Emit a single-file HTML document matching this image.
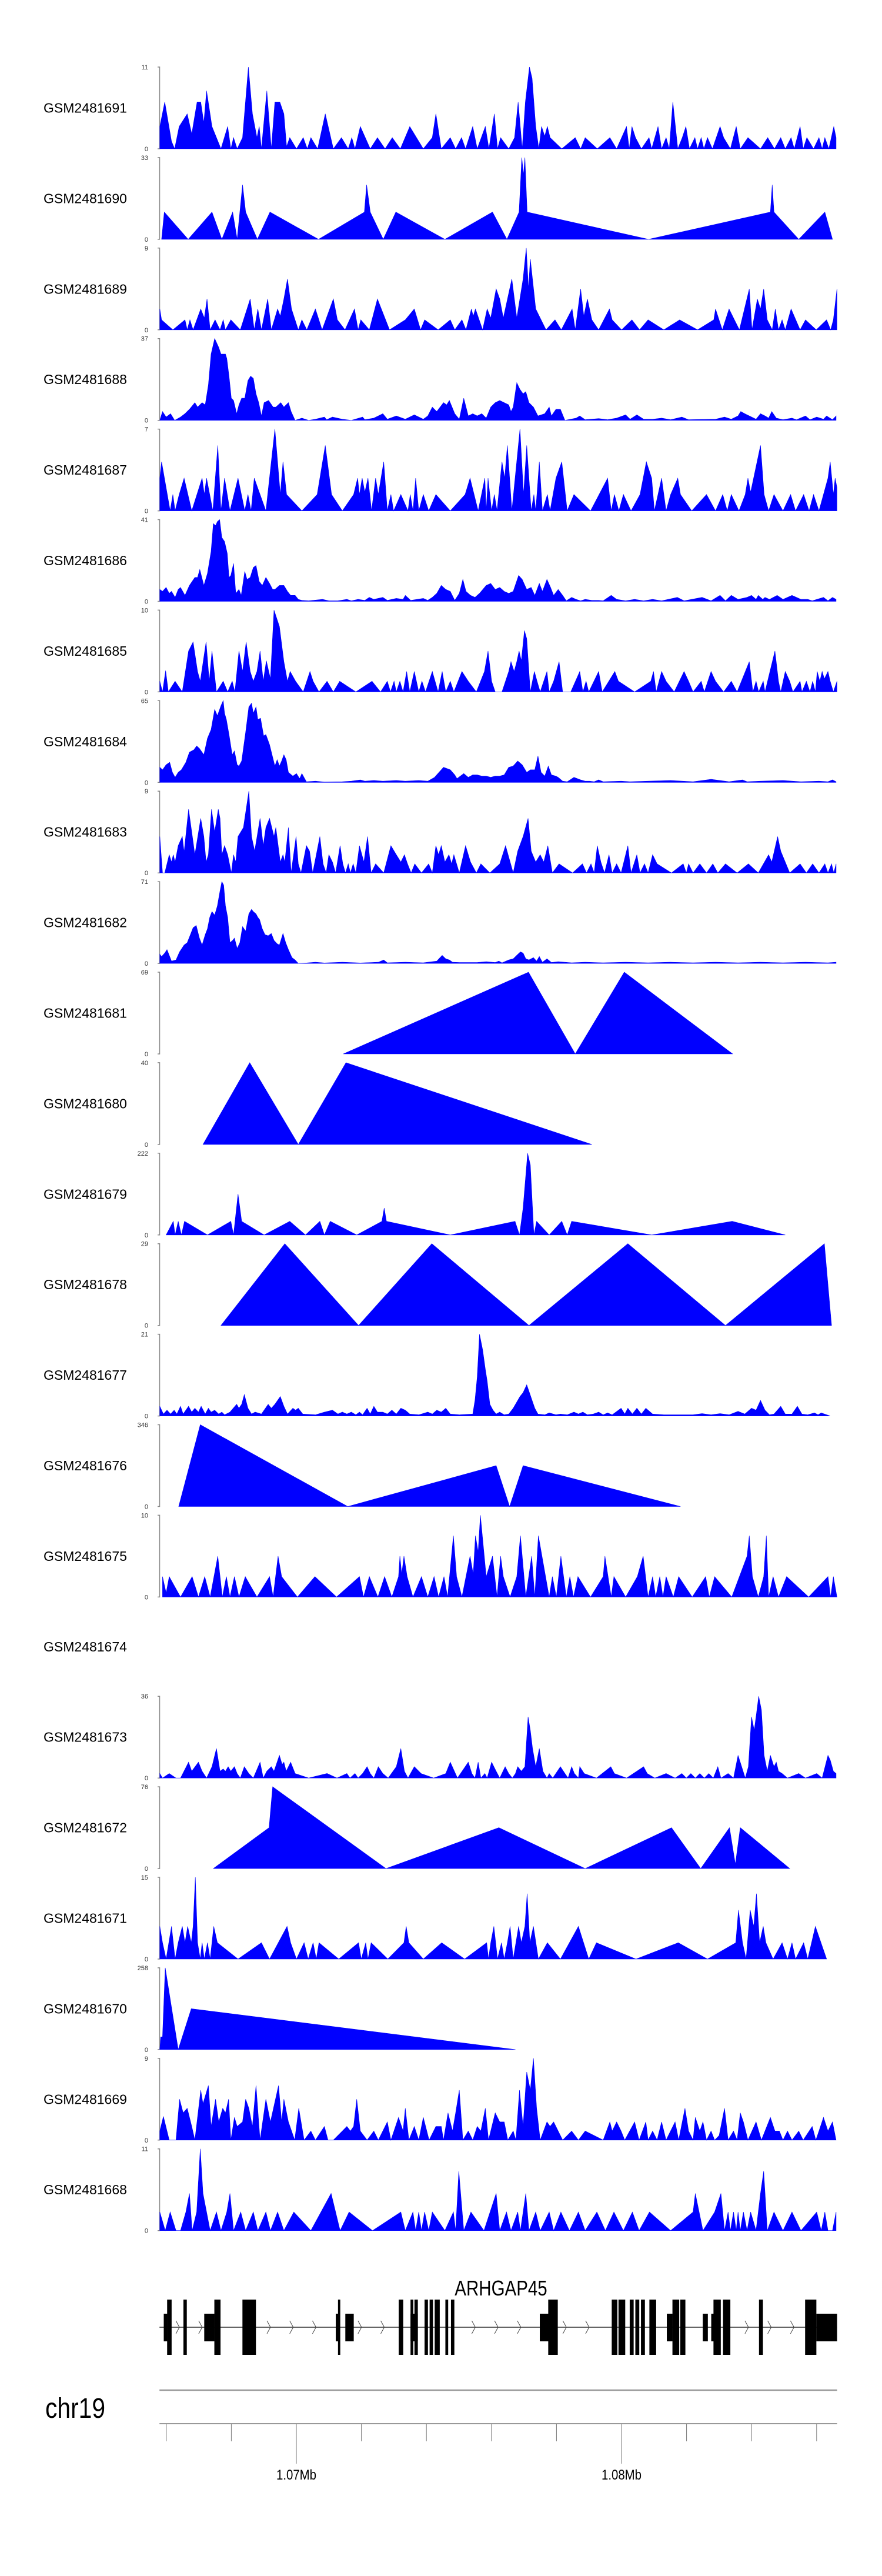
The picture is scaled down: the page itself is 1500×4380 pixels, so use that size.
<!DOCTYPE html>
<html>
<head>
<meta charset="utf-8">
<style>
html,body{margin:0;padding:0;background:#fff;}
svg{display:block;}
text{font-family:"Liberation Sans",Arial,sans-serif;}
</style>
</head>
<body>
<svg id="chart" width="1500" height="4380" viewBox="0 0 1500 4380" xmlns="http://www.w3.org/2000/svg"></svg>
<script>
// ---- data (positions are genomic bins of BIN_BP bp, values are coverage) ----
const BIN_BP = 13.828;
const BIN0 = 1065607;
const samples = ["GSM2481691","GSM2481690","GSM2481689","GSM2481688","GSM2481687","GSM2481686","GSM2481685","GSM2481684","GSM2481683","GSM2481682","GSM2481681","GSM2481680","GSM2481679","GSM2481678","GSM2481677","GSM2481676","GSM2481675","GSM2481674","GSM2481673","GSM2481672","GSM2481671","GSM2481670","GSM2481669","GSM2481668"];
const maxTicks = [11,33,9,37,7,41,10,65,9,71,69,40,222,29,21,346,10,null,36,76,15,258,9,11];

const t1691 = [[14,3],[25,6.3],[40,1],[47,0],[57,3],[75,4.7],[85,2],[97,6.3],[105,6.3],[112,3.5],[118,7.8],[130,3],[150,0],[165,3],[172,0],[178,1.5],[186,0],[198,1.5],[211,11],[220,4.7],[230,1.5],[235,3],[240,0],[252,7.8],[262,0],[270,6.3],[281,6.3],[290,4.7],[296,0.3],[303,1.5],[318,0],[333,1.5],[342,0],[350,1.5],[365,0],[382,4.7],[400,0],[418,1.5],[433,0],[441,1.5],[448,0],[460,3],[482,0],[498,1.5],[515,0],[531,1.5],[549,0],[570,3],[600,0],[620,1.5],[628,4.7],[640,0],[660,1.5],[672,0],[685,1.5],[694,0],[710,3],[720,0],[738,3],[746,0],[758,4.7],[765,0],[772,1.5],[790,0],[803,1.5],[811,6.3],[820,0],[827,6.3],[836,11],[842,9.5],[850,3],[857,0],[863,3],[870,1.7],[876,3],[882,1.5],[908,0],[938,1.5],[950,0],[960,1.5],[987,0],[1015,1.5],[1030,0],[1052,3],[1058,0],[1064,3],[1072,1.5],[1085,0],[1102,1.5],[1108,0],[1122,3],[1130,0],[1140,1.5],[1147,0],[1155,6.3],[1166,0],[1176,1.5],[1184,3],[1192,0],[1204,1.5],[1210,0],[1218,1.5],[1224,0],[1232,1.5],[1243,0],[1260,3],[1268,1.5],[1283,0],[1296,3],[1305,0],[1322,1.5],[1350,0],[1366,1.5],[1381,0],[1395,1.5],[1405,0],[1418,1.5],[1425,0],[1438,3],[1445,0],[1453,1.5],[1468,0],[1480,1.5],[1487,0],[1493,1.5],[1502,0],[1513,3],[1518,1.5]];
const t1690 = [[18,0],[24,11],[77,0],[130,11],[152,0],[176,11],[186,0],[198,22],[205,11],[231,0],[259,11],[367,0],[469,11],[474,22],[482,11],[511,0],[539,11],[648,0],[754,11],[786,0],[813,11],[819,33],[823,26],[826,33],[831,11],[1101,0],[1372,11],[1376,22],[1380,11],[1435,0],[1493,11],[1510,0]];
const t1689 = [[14,2.3],[18,1.1],[43,0],[70,1.1],[75,0],[81,1.1],[88,0],[105,2.3],[113,1.3],[119,3.4],[126,0],[137,1.1],[148,0],[155,1.1],[160,0],[172,1.1],[193,0],[215,3.4],[224,0],[232,2.3],[240,0],[254,3.4],[262,0],[276,2.3],[282,1.5],[290,3.4],[298,5.6],[307,2.3],[322,0],[330,1.1],[341,0],[360,2.3],[375,0],[400,3.4],[409,1.1],[426,0],[447,2.3],[455,0],[461,1.1],[480,0],[498,3.4],[525,0],[560,1.1],[580,2.3],[594,0],[603,1.1],[633,0],[660,1.1],[670,0],[686,1.1],[695,0],[707,2.3],[711,1.5],[716,2.3],[732,0],[742,2.3],[750,1.3],[762,4.5],[770,3.4],[778,1.3],[797,5.6],[808,1.3],[822,5.6],[829,9],[834,4.5],[838,7.8],[850,2.3],[873,0],[893,1.1],[907,0],[931,2.3],[938,0],[950,4.5],[957,1.5],[965,3.4],[975,1.1],[990,0],[1014,2.3],[1020,1.1],[1041,0],[1064,1.1],[1081,0],[1100,1.1],[1135,0],[1170,1.1],[1210,0],[1246,1.1],[1250,2.3],[1265,0],[1280,2.3],[1292,1.1],[1303,0],[1325,4.5],[1331,0],[1343,3.4],[1350,2.3],[1357,4.5],[1365,1.1],[1376,0],[1383,2.3],[1390,0],[1398,1.1],[1405,0],[1418,2.3],[1438,0],[1450,1.1],[1474,0],[1497,1.1],[1506,0],[1512,1.1],[1520,4.5]];
const t1688 = [[14,0],[20,4],[28,1.5],[38,3],[47,0],[60,1.5],[70,3],[80,5],[92,8],[98,6],[108,8],[115,7],[122,16],[128,30],[136,37],[145,33],[150,30],[160,30],[163,28],[168,20],[173,10],[178,9],[185,3],[190,7],[196,10],[203,10],[210,18],[216,20],[222,19],[228,12],[234,8],[240,2],[246,8],[256,9],[266,6],[272,6],[283,8],[290,6],[300,8],[306,4],[315,0],[330,1],[345,0],[360,0.5],[380,1.5],[385,0.3],[398,1.5],[420,0.5],[440,0],[465,1.5],[470,0.3],[490,1],[510,3],[520,0.5],[540,2],[560,0.5],[580,2.5],[600,0.5],[610,2],[620,6],[630,4],[645,8],[652,7],[658,9],[670,3],[680,0.5],[690,10],[700,2],[710,3],[720,2],[730,3],[740,1],[750,6],[760,8],[770,9],[780,8],[790,7],[795,4],[800,6],[808,17],[815,14],[822,12],[828,13],[835,8],[845,6],[855,2],[870,3],[880,6],[885,2],[895,5],[905,5],[915,0],[940,1],[948,2],[960,0.3],[990,0.8],[1010,0.3],[1030,1],[1050,2.5],[1060,0.5],[1075,2.5],[1090,0.5],[1110,0.5],[1130,1],[1150,0.3],[1175,1.5],[1190,0.3],[1250,0.5],[1270,1.5],[1285,0.5],[1300,2],[1306,4],[1315,3],[1325,2],[1340,0.5],[1350,3],[1360,2],[1368,1],[1375,4],[1385,1],[1400,0.3],[1420,1],[1430,0.3],[1450,2],[1460,0.3],[1475,1.5],[1490,0.5],[1497,2],[1510,0.3],[1518,2]];
const t1687 = [[14,2.8],[18,4.2],[37,0],[43,1.4],[48,0],[57,1.4],[68,2.8],[85,0],[108,2.8],[113,1.4],[118,2.8],[132,0],[143,5.6],[150,0],[158,2.8],[170,0],[188,2.8],[203,0],[210,1.4],[217,0],[224,2.8],[250,0],[270,7],[282,1.4],[288,4.2],[296,1.4],[330,0],[364,1.4],[382,5.6],[396,1.4],[420,0],[445,1.4],[454,2.8],[458,1.4],[464,2.8],[470,1.6],[477,2.8],[485,0],[494,2.8],[500,1.4],[512,4.2],[520,0],[528,1.4],[534,0],[550,1.4],[566,0],[571,1.4],[577,0],[583,2.8],[590,0],[600,1.4],[612,0],[628,1.4],[660,0],[693,1.4],[704,2.8],[722,0],[737,2.8],[740,0],[744,2.8],[752,0],[758,1.4],[764,0],[775,4.2],[781,2.8],[787,5.6],[797,0],[815,7],[823,1.4],[830,5.6],[840,0],[846,1.4],[850,0],[858,4.2],[865,0],[876,1.4],[882,0],[895,2.8],[908,4.2],[920,0],[935,1.4],[972,0],[1010,2.8],[1018,0],[1025,1.4],[1035,0],[1045,1.4],[1062,0],[1082,1.4],[1096,4.2],[1108,2.8],[1114,0],[1130,2.8],[1140,0],[1150,1.4],[1166,2.8],[1172,1.4],[1197,0],[1230,1.4],[1250,0],[1266,1.4],[1276,0],[1285,1.4],[1302,0],[1316,1.4],[1322,2.8],[1328,1.6],[1350,5.6],[1358,1.4],[1368,0],[1380,1.4],[1400,0],[1417,1.4],[1428,0],[1446,1.4],[1458,0],[1468,1.4],[1480,0],[1500,2.8],[1505,4.2],[1512,1.4],[1516,2.8],[1520,2]];
const t1686 = [[14,6],[20,5],[28,7],[35,4],[40,5],[48,2],[55,6],[60,7],[70,3],[80,8],[92,12],[98,12],[103,16],[112,8],[120,14],[128,25],[133,39],[138,38],[142,40],[147,41],[152,32],[158,30],[164,24],[168,12],[172,13],[178,19],[183,4],[190,6],[195,3],[203,15],[208,11],[215,12],[222,17],[228,18],[235,10],[242,8],[250,12],[258,9],[265,6],[270,6],[280,8],[290,8],[298,5],[305,3],[315,3],[322,1],[330,0.5],[345,0.3],[376,1],[390,0.3],[410,0.3],[430,1],[440,0.3],[455,1],[470,0.5],[480,2],[490,1],[510,2],[520,0.5],[540,1.5],[555,1],[560,3],[572,0.5],[600,1.5],[610,0.5],[620,2],[630,4],[640,8],[650,6],[660,5],[670,0.5],[680,4],[688,11],[695,5],[705,3],[715,2],[725,4],[740,8],[750,9],[760,6],[770,7],[780,5],[790,4],[800,5],[812,13],[820,11],[830,6],[840,7],[848,3],[858,9],[865,5],[875,11],[883,7],[890,3],[900,6],[910,3],[918,0.3],[930,2],[940,1],[950,0.3],[960,1],[975,0.5],[990,0.5],[1000,0.3],[1018,3],[1030,1],[1050,0.3],[1070,1],[1090,0.3],[1110,1],[1130,0.3],[1165,2],[1180,0.3],[1220,2],[1240,0.3],[1260,3],[1272,0.3],[1285,3],[1300,1],[1320,2],[1330,3],[1340,1],[1345,3],[1355,1],[1360,2],[1370,1],[1387,3],[1400,1],[1420,3],[1440,1],[1455,1],[1465,0.3],[1490,2],[1500,0.3],[1510,2],[1518,1]];
const t1685 = [[14,1.3],[20,0],[27,2.6],[33,0],[48,1.3],[64,0],[78,5],[88,6.1],[98,2.5],[104,1.3],[117,6.1],[124,1.3],[130,5],[140,0],[155,1.3],[165,0],[175,1.3],[181,0],[190,5],[198,2.5],[206,6.1],[215,2.5],[222,1.3],[230,2.5],[237,5],[244,1.3],[251,3.8],[260,1.6],[268,10],[280,8],[290,3.7],[298,1.3],[304,2.5],[316,1.3],[333,0],[348,2.5],[355,1.3],[368,0],[386,1.3],[400,0],[414,1.3],[450,0],[486,1.3],[505,0],[520,1.3],[527,0],[535,1.3],[540,0],[548,1.3],[555,0],[563,2.5],[570,0],[580,2.5],[590,0],[597,1.3],[605,0],[620,2.5],[633,0],[642,2.5],[650,0],[660,1.3],[668,0],[686,2.5],[700,1.3],[718,0],[736,2.5],[744,5],[752,1.3],[760,0],[775,0],[790,2.5],[795,3.7],[802,2.5],[808,3.7],[813,5],[818,3.8],[825,7.5],[830,6.5],[838,0],[847,2.5],[853,1.3],[860,0],[875,2.5],[880,0],[890,1.3],[902,3.7],[910,0],[928,0],[948,2.5],[955,0],[962,1.3],[968,0],[990,2.5],[998,0],[1026,2.5],[1034,1.3],[1070,0],[1106,1.3],[1112,2.5],[1118,0],[1130,2.5],[1140,1.3],[1158,0],[1180,2.5],[1190,1.3],[1200,0],[1218,1.3],[1225,0],[1240,2.5],[1250,1.3],[1268,0],[1285,1.3],[1298,0],[1325,3.7],[1333,0],[1340,1.3],[1346,0],[1356,1.3],[1360,0],[1382,5],[1390,1.3],[1395,0],[1405,2.5],[1415,1.3],[1422,0],[1438,1.3],[1442,0],[1452,1.3],[1460,0],[1466,1.3],[1472,0],[1476,2.5],[1482,1.3],[1487,2.5],[1492,1.6],[1500,2.5],[1505,1.3],[1512,0],[1520,1.3]];
const t1684 = [[14,12],[20,10],[28,14],[36,16],[42,8],[48,4],[55,8],[62,10],[72,16],[80,24],[90,26],[96,29],[102,27],[112,22],[120,35],[128,42],[136,58],[142,53],[150,61],[155,65],[158,55],[162,50],[168,38],[175,22],[180,25],[186,14],[190,13],[196,17],[205,40],[212,60],[218,63],[222,55],[228,60],[232,50],[238,51],[245,37],[250,38],[258,30],[265,20],[270,13],[275,18],[280,13],[285,17],[290,22],[295,18],[300,8],[310,5],[318,7],[325,3],[330,7],[340,0.5],[360,1],[380,0.3],[420,0.5],[440,1],[460,2],[470,1],[490,1.5],[510,1],[540,1.5],[560,1],[590,1.5],[610,1],[625,4],[630,6],[645,12],[660,10],[670,6],[675,3],[690,7],[700,4],[710,6],[720,6],[730,5],[740,5],[750,4],[760,5],[770,5],[780,6],[790,12],[800,13],[810,17],[820,14],[830,8],[838,10],[848,10],[855,21],[862,8],[870,5],[878,13],[885,6],[895,5],[900,4],[910,1],[920,0.5],[935,4],[950,2],[960,1],[970,1],[980,0.5],[990,2],[1000,0.5],[1040,1],[1060,0.5],[1100,1],[1150,1.5],[1200,0.5],[1240,2.5],[1260,1.5],[1280,0.5],[1310,2],[1320,0.5],[1350,1],[1400,1.5],[1440,0.5],[1480,1],[1500,0.5],[1510,2],[1518,0.5]];
const t1683 = [[14,4],[20,0],[25,0],[35,2],[40,1.2],[44,2],[48,1.2],[55,3],[64,4],[68,2.3],[78,7],[85,4.5],[92,2],[105,6],[112,4],[117,1.2],[122,2],[129,7],[136,4.5],[144,7],[148,6],[152,2],[158,3],[165,2],[173,0],[178,2],[183,1.2],[188,4],[200,5],[206,7],[212,9],[218,4],[225,2.4],[237,6],[244,3],[250,5],[258,6],[263,5],[268,4],[272,5],[282,1.2],[288,2],[292,1.2],[300,5],[306,0],[317,4],[322,1],[328,0],[340,3],[347,2.4],[354,0],[370,4],[377,1],[384,0],[390,2],[398,1.2],[405,0],[415,3],[421,1],[427,0],[433,1],[438,0],[444,1],[450,0],[458,3],[468,1.2],[476,4],[484,0],[494,1],[512,0],[528,3],[540,2],[550,1.2],[558,2],[565,1],[573,0],[581,1],[596,0],[612,1],[620,0],[628,3],[634,2],[640,3],[648,1.2],[657,2],[663,1],[668,2],[680,0],[694,3],[705,1.2],[718,0],[728,1],[748,0],[770,1],[783,3],[800,0],[810,2.4],[822,4],[833,6],[840,2.4],[850,1.2],[860,2],[868,1.2],[877,3],[887,0],[902,1],[932,0],[954,1],[963,0],[973,1],[980,0],[987,3],[995,1.2],[1003,0],[1013,2],[1020,0],[1030,1],[1040,0],[1055,3],[1062,0],[1075,2],[1082,0],[1092,1],[1100,0],[1110,2],[1120,1],[1152,0],[1178,1],[1185,0],[1190,1],[1200,0],[1215,1],[1230,0],[1244,1],[1255,0],[1272,1],[1298,0],[1323,1],[1345,0],[1368,2],[1375,1.2],[1388,4],[1395,2.4],[1415,0],[1438,1],[1452,0],[1466,1],[1480,0],[1493,1],[1500,0],[1508,1],[1513,0],[1518,1]];
const t1682 = [[14,8],[18,6],[25,9],[30,12],[40,2],[50,3],[58,10],[68,16],[75,18],[82,25],[88,31],[95,33],[102,22],[108,16],[115,25],[120,30],[125,40],[130,45],[136,42],[142,50],[148,63],[152,71],[156,68],[160,50],[165,40],[170,18],[176,20],[180,22],[186,13],[192,18],[198,32],[205,28],[212,43],[218,47],[222,45],[228,43],[232,40],[236,38],[242,30],[248,25],[255,24],[262,26],[268,20],[275,17],[280,16],[288,26],[294,18],[300,12],[308,5],[315,3],[322,0],[340,0.4],[360,1],[380,0.4],[420,1],[460,0.4],[500,1],[512,3],[520,0.5],[560,1],[600,0.5],[630,2],[642,7],[650,4],[658,3],[665,1],[680,0.8],[720,0.8],[740,1.5],[760,0.8],[768,2],[775,0.5],[790,3],[800,4],[808,7],[816,10],[822,9],[828,4],[835,3],[845,5],[852,2],[858,6],[865,1],[875,4],[885,0.8],[900,1.5],[930,0.5],[960,1],[1000,0.5],[1050,1],[1100,0.5],[1150,1],[1200,0.5],[1250,1],[1300,0.5],[1350,1],[1400,0.5],[1450,1],[1500,0.5],[1518,1]];
const t1681 = [[422,0],[834,69],[938,0],[1047,69],[1288,0]];
const t1680 = [[110,0],[214,40],[322,0],[428,40],[975,0]];
const t1679 = [[28,0],[44,37],[48,0],[55,37],[62,0],[69,37],[120,0],[172,37],[178,0],[188,111],[196,37],[246,0],[303,37],[338,0],[370,37],[380,0],[393,37],[452,0],[508,37],[513,73],[518,37],[660,0],[804,37],[814,0],[822,73],[832,222],[838,190],[846,0],[852,37],[880,0],[908,37],[920,0],[930,37],[1108,0],[1287,37],[1405,0]];
const t1678 = [[150,0],[292,29],[456,0],[619,29],[835,0],[1055,29],[1272,0],[1492,29],[1508,0]];
const t1677 = [[14,2.5],[22,0.5],[30,1.5],[38,0.5],[46,1.5],[52,0.5],[60,2.5],[66,0.5],[78,2.5],[85,1],[92,2],[100,1],[106,2.5],[115,0.5],[122,2],[128,1],[136,1.5],[145,0.5],[152,1],[158,0.3],[170,1],[185,3],[190,2],[196,3],[202,5.5],[210,2],[218,0.5],[226,1],[240,0.5],[255,3],[262,2],[270,3],[282,5],[290,2.5],[298,0.5],[310,2],[316,1.5],[322,2],[332,0.5],[360,0.3],[380,1],[398,1.5],[410,0.5],[420,1],[430,0.5],[440,1],[450,0.3],[458,1],[465,0.3],[475,2],[482,0.5],[490,2.5],[498,1],[510,1],[520,0.5],[530,1.5],[540,0.5],[550,2],[560,1.5],[570,0.5],[590,0.3],[610,1],[620,0.5],[630,1.5],[640,1],[650,2],[660,0.5],[680,0.3],[710,0.5],[715,4],[720,10],[725,21],[732,17],[738,12],[742,9],[748,3],[755,1.5],[762,0.5],[770,1],[780,0.3],[790,0.5],[800,2],[810,4],[815,5],[822,6],[830,8],[836,6],[842,4],[848,2],[855,0.5],[870,0.3],[880,0.8],[895,0.3],[905,0.5],[920,0.3],[935,1],[945,0.5],[955,1],[965,0.3],[978,0.5],[990,1],[1000,0.3],[1010,0.8],[1020,0.3],[1040,2],[1048,0.5],[1055,2],[1065,0.5],[1075,2],[1085,0.5],[1095,2],[1110,0.5],[1135,0.3],[1170,0.3],[1200,0.3],[1220,0.6],[1240,0.3],[1260,0.6],[1280,0.3],[1300,1.2],[1315,0.5],[1330,2],[1340,1.5],[1350,4],[1360,1.5],[1370,0.3],[1380,0.5],[1395,2.5],[1405,0.5],[1420,0.5],[1432,2.5],[1442,0.5],[1455,0.3],[1470,0.8],[1478,0.3],[1485,0.8],[1505,0]];
const t1676 = [[56,0],[104,346],[432,0],[762,173],[792,0],[822,173],[1172,0]];
const t1675 = [[20,2.5],[28,0.5],[35,2.5],[60,0],[86,2.5],[100,0],[114,2.5],[126,0],[143,5],[153,0],[162,2.5],[170,0],[180,2.5],[190,0],[204,2.5],[230,0],[258,2.5],[266,0],[277,5],[285,2.5],[320,0],[359,2.5],[407,0],[458,2.5],[467,0],[480,2.5],[499,0],[514,2.5],[530,0],[545,2.5],[548,5],[552,2.8],[557,5],[564,2.5],[577,0],[596,2.5],[610,0],[624,2.5],[634,0],[646,2.5],[654,0],[667,7.5],[674,2.5],[686,0],[704,5],[711,2.8],[716,7.5],[722,5.5],[727,10],[740,2.5],[754,5],[764,0],[772,5],[778,2.5],[793,0],[808,2.5],[816,7.5],[828,0],[841,5],[848,0],[856,7.5],[880,0],[887,2.5],[896,0],[906,5],[918,0],[926,2.5],[934,0],[944,2.5],[972,0],[1000,2.5],[1004,5],[1018,0],[1024,2.5],[1050,0],[1076,2.5],[1089,5],[1100,0],[1110,2.5],[1117,0],[1126,2.5],[1133,0],[1140,2.5],[1156,0],[1168,2.5],[1198,0],[1228,2.5],[1236,0],[1248,2.5],[1286,0],[1320,5],[1325,7.5],[1332,2.5],[1345,0],[1357,2.5],[1363,7.5],[1368,0],[1378,2.5],[1390,0],[1408,2.5],[1457,0],[1500,2.5],[1506,0],[1512,2.5],[1520,0]];
const t1674 = [];
const t1673 = [[14,2],[20,0],[35,2],[50,0],[60,0],[78,7],[85,3],[100,7],[108,3],[118,0],[130,5],[140,13],[148,3],[155,4],[160,3],[166,5],[172,3],[180,5],[186,2],[193,0],[202,5],[212,2],[222,0],[237,7],[244,0],[252,3],[262,5],[268,3],[280,10],[286,6],[290,7],[295,3],[305,7],[315,2],[345,0],[386,2],[408,0],[430,2],[437,0],[448,2],[455,0],[465,2],[475,5],[482,2],[490,0],[500,5],[510,2],[522,0],[540,5],[550,13],[558,3],[566,0],[580,5],[595,2],[623,0],[650,2],[660,7],[676,0],[700,7],[708,2],[715,0],[722,7],[728,0],[737,2],[742,0],[752,7],[762,3],[770,0],[782,5],[790,2],[798,0],[805,2],[810,5],[818,3],[826,5],[833,27],[838,21],[843,13],[850,5],[858,13],[866,3],[875,0],[880,2],[888,0],[905,5],[915,2],[922,0],[930,5],[936,2],[945,0],[948,5],[958,2],[985,0],[1017,5],[1025,2],[1052,0],[1090,5],[1098,2],[1115,0],[1140,2],[1160,0],[1175,2],[1185,0],[1195,2],[1205,0],[1215,2],[1225,0],[1235,2],[1245,0],[1255,5],[1262,0],[1278,2],[1290,0],[1300,10],[1308,5],[1316,0],[1323,5],[1330,27],[1336,21],[1340,27],[1346,36],[1352,30],[1358,10],[1365,3],[1372,10],[1380,5],[1385,7],[1390,3],[1398,2],[1410,0],[1435,2],[1450,0],[1475,2],[1487,0],[1500,10],[1505,8],[1512,3],[1518,2]];
const t1672 = [[133,0],[257,38],[265,76],[517,0],[768,38],[960,0],[1152,38],[1217,0],[1281,38],[1294,4],[1305,38],[1415,0]];
const t1671 = [[14,6],[20,3],[28,0],[40,6],[48,0],[55,3],[64,6],[70,3],[76,6],[84,3],[88,6],[93,15],[98,3],[104,0],[108,3],[113,0],[120,3],[126,0],[134,6],[142,3],[188,0],[240,3],[258,0],[297,6],[305,3],[318,0],[335,3],[344,0],[355,3],[362,0],[368,3],[412,0],[456,3],[462,0],[472,3],[477,0],[484,3],[521,0],[557,3],[562,6],[568,3],[600,0],[641,3],[692,0],[741,3],[745,0],[750,3],[757,6],[765,0],[774,3],[780,0],[787,3],[793,6],[800,0],[806,3],[812,6],[818,3],[826,6],[831,12],[837,3],[845,6],[856,0],[876,3],[905,0],[945,6],[968,0],[985,3],[1073,0],[1167,3],[1232,0],[1295,3],[1301,9],[1310,3],[1318,0],[1327,9],[1335,6],[1341,12],[1348,3],[1356,6],[1362,3],[1378,0],[1398,3],[1410,0],[1420,3],[1428,0],[1446,3],[1455,0],[1472,6],[1497,0]];
const t1670 = [[14,0],[16,40],[20,40],[26,258],[55,0],[84,129],[805,0]];
const t1669 = [[14,1],[22,2.6],[35,0],[50,0],[58,4.5],[66,3],[75,3.5],[85,1.5],[92,0],[105,5.5],[110,4],[116,5],[122,6],[128,1.5],[138,4.5],[145,2],[154,3.5],[160,3],[167,4.5],[172,0],[180,2.5],[186,1.5],[198,2],[205,4.5],[212,3.5],[220,1.5],[228,6],[237,0],[250,4.5],[260,2],[278,6],[285,2],[290,4.5],[300,2],[314,0],[323,3.5],[335,0],[350,1],[360,0],[380,1.5],[388,0],[400,0],[420,1],[430,1.5],[438,1],[445,1.5],[452,4.5],[460,1],[475,0],[490,1],[500,0],[520,2],[528,0],[545,2.5],[555,1],[560,3.5],[568,0],[580,1.5],[590,0],[600,2.5],[613,0],[628,1.5],[640,1.5],[645,0],[655,3],[665,1],[672,3],[680,5.5],[688,0],[700,1],[710,0],[720,1.5],[728,1],[738,3.5],[745,0],[760,3],[770,2],[780,2],[788,0],[800,1],[806,0],[814,5.5],[822,1.5],[830,7.5],[838,5.5],[845,9],[852,3.5],[860,0],[875,2],[882,1.5],[890,2],[910,0],[930,1],[945,0],[960,1],[1000,0],[1015,2],[1020,1],[1030,2],[1040,1],[1048,0],[1070,2],[1080,0],[1095,2],[1100,0],[1110,1],[1120,0],[1130,2],[1140,0],[1160,2],[1168,0],[1182,3.5],[1190,1],[1200,0],[1205,2.5],[1215,1],[1222,2],[1230,0],[1240,1],[1248,0],[1258,0.5],[1270,3.5],[1278,0],[1290,1],[1298,0],[1305,3],[1312,2],[1322,0],[1340,2],[1352,0],[1372,2.5],[1382,1],[1392,1],[1400,0],[1410,1],[1420,0],[1435,1],[1445,0],[1465,1.5],[1473,0],[1480,1],[1490,2.5],[1500,1],[1510,2],[1518,0]];
const t1668 = [[14,2.5],[26,0],[37,2.5],[50,0],[60,0],[72,2.5],[80,5],[86,0],[96,2.5],[104,11],[110,5],[126,0],[140,2.5],[150,0],[163,2.5],[170,5],[178,0],[194,2.5],[205,0],[222,2.5],[232,0],[250,2.5],[260,0],[276,2.5],[290,0],[312,2.5],[350,0],[395,5],[415,0],[435,2.5],[487,0],[550,2.5],[560,0],[577,2.5],[583,0],[590,2.5],[596,0],[603,2.5],[612,0],[620,2.5],[648,0],[667,2.5],[672,0],[679,8],[690,0],[706,2.5],[735,0],[762,5],[770,0],[785,2.5],[795,0],[810,2.5],[816,0],[828,5],[835,0],[850,2.5],[860,0],[880,2.5],[890,0],[906,2.5],[925,0],[945,2.5],[960,0],[986,2.5],[1005,0],[1024,2.5],[1045,0],[1065,2.5],[1080,0],[1103,2.5],[1150,0],[1200,2.5],[1205,5],[1222,0],[1248,2.5],[1262,5],[1270,0],[1278,2.5],[1283,0],[1290,2.5],[1296,0],[1300,2.5],[1305,0],[1312,2.5],[1320,0],[1328,2.5],[1340,0],[1350,5],[1357,8],[1365,0],[1380,2.5],[1400,0],[1420,2.5],[1440,0],[1475,2.5],[1485,0],[1493,2.5],[1500,0],[1510,0],[1518,2.5]];
const tracks = [t1691,t1690,t1689,t1688,t1687,t1686,t1685,t1684,t1683,t1682,t1681,t1680,t1679,t1678,t1677,t1676,t1675,t1674,t1673,t1672,t1671,t1670,t1669,t1668];

// gene model (kb)
const exonStart = [1066.026,1066.527,1067.478,1067.564,1068.342,1071.281,1073.148,1073.511,1073.632,1073.943,1074.098,1074.254,1074.583,1074.755,1077.746,1079.699,1079.907,1080.252,1080.425,1080.598,1080.857,1081.566,1081.808,1082.828,1083.122,1084.228,1085.646];
const exonEnd   = [1066.164,1066.631,1067.568,1067.668,1068.757,1071.350,1073.286,1073.597,1073.736,1074.047,1074.202,1074.410,1074.669,1074.859,1078.040,1079.872,1080.114,1080.373,1080.546,1080.719,1081.065,1081.774,1081.964,1083.053,1083.347,1084.349,1085.992];
const utrStart = [1065.922,1067.167,1071.212,1071.506,1073.511,1077.487,1081.393,1082.500,1082.759,1085.992];
const utrEnd   = [1066.030,1067.480,1071.290,1071.765,1073.736,1077.750,1081.570,1082.655,1082.830,1086.630];
const geneStartKb = 1065.790, geneEndKb = 1086.630;
const axisStartKb = 1065.790, axisEndKb = 1086.630;
const majorTicksKb = [1070,1080];
const majorLabels = ["1.07Mb","1.08Mb"];
const minorTicksKb = [1066,1068,1070,1072,1074,1076,1078,1080,1082,1084,1086];

// ---- scales ----
const PLOT_LEFT = 271.8, PX_PER_KB = 55.3, KB_LEFT = 1065.801;
function xKb(kb){ return PLOT_LEFT + (kb - KB_LEFT) * PX_PER_KB; }
function xBin(b){ return xKb((BIN0 + b * BIN_BP) / 1000); }
const TOP0 = 114, PITCH = 153.9, TH = 139;
function yVal(i, v, max){ const top = TOP0 + i * PITCH; return top + TH * (1 - v / max); }

const NS = "http://www.w3.org/2000/svg";
const svg = document.getElementById("chart");
function el(tag, attrs, parent){
  const e = document.createElementNS(NS, tag);
  for (const k in attrs) e.setAttribute(k, attrs[k]);
  (parent || svg).appendChild(e);
  return e;
}

samples.forEach((name, i) => {
  const top = TOP0 + i * PITCH, base = top + TH;
  const g = el("g", {});
  
  
  const lab = el("text", {x: 74, y: top + TH/2 + 8, "font-size": 23, fill: "#000"}, g);
  lab.textContent = name;
  
  
  const max = maxTicks[i];
  const pts = tracks[i];
  if (max === null) return;
  const ax = el("path", {d: `M268,${top}H271.5V${base}H268`, stroke: "#888", "stroke-width": 1.5, fill: "none"}, g);
  
  
  const tTop = el("text", {x: 252, y: top + 4, "font-size": 11, "text-anchor": "end", fill: "#333"}, g);
  tTop.textContent = String(max);
  
  
  const tZero = el("text", {x: 252, y: base + 4, "font-size": 11, "text-anchor": "end", fill: "#333"}, g);
  tZero.textContent = "0";
  
  
  if (!pts.length) return;
  let d = `M${xBin(pts[0][0]).toFixed(1)},${base}`;
  pts.forEach(p => { d += `L${xBin(p[0]).toFixed(1)},${yVal(i, p[1], max).toFixed(1)}`; });
  d += `L${xBin(pts[pts.length-1][0]).toFixed(1)},${base}Z`;
  const area = el("path", {d: d, fill: "#0000FF", stroke: "#0000FF", "stroke-width": 0.6}, g);
  
  
});

// gene track
const gg = el("g", {});


const gname = el("text", {x: 852, y: 3903, "font-size": 36, "text-anchor": "middle", fill: "#000", transform: "translate(852,3903) scale(0.82,1) translate(-852,-3903)"}, gg);
gname.textContent = "ARHGAP45";


const intron = el("line", {x1: xKb(geneStartKb), x2: xKb(geneEndKb), y1: 3957, y2: 3957, stroke: "#333", "stroke-width": 1.5}, gg);


for (let kb = 1066.35; kb < 1085.6; kb += 0.7) {
  const inside = exonStart.some((s, j) => kb > s - 0.1 && kb < exonEnd[j] + 0.1) || utrStart.some((s, j) => kb > s - 0.1 && kb < utrEnd[j] + 0.1);
  if (inside) continue;
  const x = xKb(kb);
  const ch = el("path", {d: `M${x-3},3946L${x+3},3957L${x-3},3968`, stroke: "#444", "stroke-width": 1, fill: "none"}, gg);
  
  
}
utrStart.forEach((s, j) => {
  const r = el("rect", {x: xKb(s), y: 3934, width: Math.max(2, (utrEnd[j]-s)*PX_PER_KB), height: 47, fill: "#000"}, gg);
  
  
});
exonStart.forEach((s, j) => {
  const r = el("rect", {x: xKb(s), y: 3910, width: Math.max(2, (exonEnd[j]-s)*PX_PER_KB), height: 94, fill: "#000"}, gg);
  
  
});

// genome axis
const ag = el("g", {});


const chr = el("text", {x: 77, y: 4111, "font-size": 48, fill: "#000", transform: "translate(77,4111) scale(0.85,1) translate(-77,-4111)"}, ag);
chr.textContent = "chr19";


const l1 = el("line", {x1: xKb(axisStartKb), x2: xKb(axisEndKb), y1: 4064, y2: 4064, stroke: "#999", "stroke-width": 2.5}, ag);


const l2 = el("line", {x1: xKb(axisStartKb), x2: xKb(axisEndKb), y1: 4121, y2: 4121, stroke: "#999", "stroke-width": 2}, ag);


minorTicksKb.forEach(kb => {
  const major = majorTicksKb.indexOf(kb) >= 0;
  const t = el("line", {x1: xKb(kb), x2: xKb(kb), y1: 4122, y2: major ? 4189 : 4151, stroke: "#777", "stroke-width": 1}, ag);
  
  
});
majorTicksKb.forEach((kb, j) => {
  const t = el("text", {x: xKb(kb), y: 4216, "font-size": 24, "text-anchor": "middle", fill: "#000", transform: `translate(${xKb(kb)},4216) scale(0.85,1) translate(${-xKb(kb)},-4216)`}, ag);
  t.textContent = majorLabels[j];
  
  
});
</script>
</body>
</html>
